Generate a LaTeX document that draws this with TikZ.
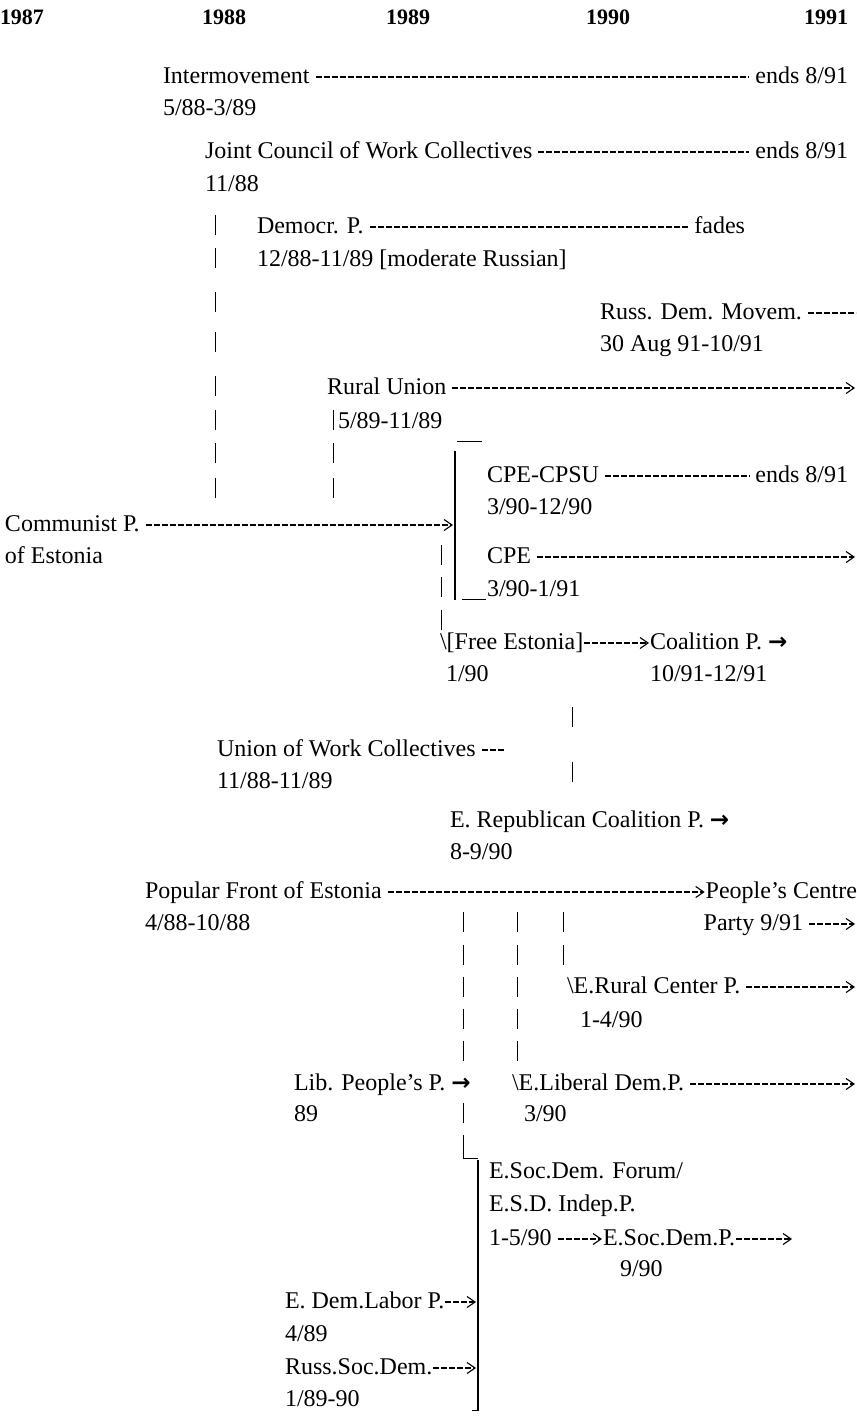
\documentclass[tikz,border=0pt]{standalone}
\usepackage{fontspec}
\setmainfont{Liberation Serif}
\newfontfamily\symf{DejaVu Sans}
\usetikzlibrary{arrows.meta}
\newcommand\vb[2]{\draw[barline] (#1,{#2-10}) -- (#1,{#2+10});}
\begin{document}
\begin{tikzpicture}[x=1pt,y=-1pt,
  every node/.style={inner sep=0pt,outer sep=0pt,font=\fontsize{24}{28}\selectfont},
  lbl/.style={anchor=base west},
  rlbl/.style={anchor=base east},
  yr/.style={anchor=base west,font=\fontsize{22}{26}\selectfont\bfseries},
  dsh/.style={line width=1.4pt,dash pattern=on 6pt off 2pt},
  dsharr/.style={dsh,-{Straight Barb[length=8pt,width=11pt,line width=1.1pt]}},
  barline/.style={line width=1pt},
  thick bar/.style={line width=2.6pt}]
\useasboundingbox (0,0) rectangle (857,1425);
\newcommand\ra{{\symf\bfseries\fontsize{23}{25}\selectfont →}}
% years
\node[yr] (y87) at (0,24) {1987};
\node[yr] (y88) at (202,24) {1988};
\node[yr] (y89) at (386,24) {1989};
\node[yr] (y90) at (586,24) {1990};
\node[yr] (y91) at (804,24) {1991};
% Intermovement
\node[lbl] (inter) at (163,83) {Intermovement};
\node[rlbl] (interE) at (848,83) {ends 8/91};
\draw[dsh] ([xshift=6pt,yshift=6pt]inter.base east) -- ([xshift=-6pt,yshift=6pt]interE.base west);
\node[lbl] (interD) at (163,115) {5/88-3/89};
% Joint Council
\node[lbl] (joint) at (205,158) {Joint Council of Work Collectives};
\node[rlbl] (jointE) at (848,158) {ends 8/91};
\draw[dsh] ([xshift=6pt,yshift=6pt]joint.base east) -- ([xshift=-6pt,yshift=6pt]jointE.base west);
\node[lbl] (jointD) at (205,191) {11/88};
% Democr
\node[lbl] (dem) at (257,233) {Democr. P.};
\node[rlbl] (demE) at (745,233) {fades};
\draw[dsh] ([xshift=6pt,yshift=6pt]dem.base east) -- ([xshift=-6pt,yshift=6pt]demE.base west);
\node[lbl] (demD) at (257,266) {12/88-11/89 [moderate Russian]};
% Russ Dem Movem
\node[lbl] (rdm) at (600,319) {Russ. Dem. Movem.};
\coordinate (rdmE) at (856,313);
\draw[dsh] ([xshift=6pt,yshift=6pt]rdm.base east) -- (rdmE);
\node[lbl] (rdmD) at (600,351) {30 Aug 91-10/91};
% Rural Union
\node[lbl] (ru) at (327,394) {Rural Union};
\coordinate (ruE) at (855,388);
\draw[dsharr] ([xshift=6pt,yshift=6pt]ru.base east) -- (ruE);
\node[lbl] (ruD) at (338,428) {5/89-11/89};
% left bar columns
\foreach \c in {225,258,302,342,386,420,453,488} {\vb{215}{\c}}
\foreach \c in {420,453,488} {\vb{333}{\c}}
% CPE bracket
\coordinate (brT) at (455,451);
\coordinate (brB) at (455,600);
\draw[thick bar] (brT) -- (brB);
\draw[barline] (457,441) -- (482,441);
\draw[barline] (462,599) -- (486,599);
\node[lbl] (cpsu) at (487,482) {CPE-CPSU};
\node[rlbl] (cpsuE) at (848,482) {ends 8/91};
\draw[dsh] ([xshift=6pt,yshift=6pt]cpsu.base east) -- ([xshift=-6pt,yshift=6pt]cpsuE.base west);
\node[lbl] (cpsuD) at (487,514) {3/90-12/90};
% Communist P.
\node[lbl] (cp) at (5,531) {Communist P.};
\coordinate (cpE) at (453,525);
\draw[dsharr] ([xshift=6pt,yshift=6pt]cp.base east) -- (cpE);
\node[lbl] (cpD) at (5,563) {of Estonia};
% CPE
\node[lbl] (cpe) at (487,563) {CPE};
\coordinate (cpeE) at (855,557);
\draw[dsharr] ([xshift=6pt,yshift=6pt]cpe.base east) -- (cpeE);
\node[lbl] (cpeD) at (487,596) {3/90-1/91};
\foreach \c in {555,587,620} {\vb{441}{\c}}
% Free Estonia
\node[lbl] (fe) at (440,649) {\textbackslash[Free Estonia]};
\node[lbl] (coal) at (650,649) {Coalition P. \ra};
\draw[dsharr] ([xshift=1pt,yshift=6pt]fe.base east) -- ([xshift=-1pt,yshift=6pt]coal.base west);
\node[lbl] (feD) at (446,681) {1/90};
\node[lbl] (coalD) at (650,681) {10/91-12/91};
\vb{572}{717}
\vb{572}{772}
% Union of Work Collectives
\node[lbl] (uwc) at (217,756) {Union of Work Collectives};
\coordinate (uwcE) at ([xshift=28pt,yshift=6pt]uwc.base east);
\draw[dsh] ([xshift=6pt,yshift=6pt]uwc.base east) -- (uwcE);
\node[lbl] (uwcD) at (217,788) {11/88-11/89};
% E. Republican Coalition
\node[lbl] (erc) at (450,827) {E. Republican Coalition P. \ra};
\node[lbl] (ercD) at (450,859) {8-9/90};
% Popular Front
\node[lbl] (pf) at (145,898) {Popular Front of Estonia};
\node[rlbl] (pcp) at (857,898) {People’s Centre};
\draw[dsharr] ([xshift=6pt,yshift=6pt]pf.base east) -- ([xshift=-1pt,yshift=6pt]pcp.base west);
\node[lbl] (pfD) at (145,930) {4/88-10/88};
\node[rlbl] (pcpD) at (803,930) {Party 9/91};
\coordinate (pcpE) at (855,924);
\draw[dsharr] ([xshift=6pt,yshift=6pt]pcpD.base east) -- (pcpE);
\foreach \c in {922,955,987,1019,1051,1113} {\vb{463}{\c}}
\foreach \c in {922,955,987,1019,1051} {\vb{517}{\c}}
\foreach \c in {922,955} {\vb{563}{\c}}
% E. Rural Center
\node[lbl] (erc2) at (567,993) {\textbackslash E.Rural Center P.};
\coordinate (erc2E) at (855,987);
\draw[dsharr] ([xshift=6pt,yshift=6pt]erc2.base east) -- (erc2E);
\node[lbl] (erc2D) at (580,1027) {1-4/90};
% Lib People's
\node[lbl] (lpp) at (294,1090) {Lib. People’s P. \ra};
\node[lbl] (eld) at (512,1090) {\textbackslash E.Liberal Dem.P.};
\coordinate (eldE) at (855,1084);
\draw[dsharr] ([xshift=6pt,yshift=6pt]eld.base east) -- (eldE);
\node[lbl] (lppD) at (294,1121) {89};
\node[lbl] (eldD) at (524,1121) {3/90};
% L corner
\draw[barline] (463,1135) -- (463,1158) -- (478,1158);
% Soc Dem bracket
\coordinate (sdT) at (478,1160);
\coordinate (sdB) at (478,1410);
\draw[thick bar] (sdT) -- (sdB);
\draw[barline] (472,1410) -- (479,1410);
\node[lbl] (esdf) at (489,1178) {E.Soc.Dem. Forum/};
\node[lbl] (esdi) at (489,1211) {E.S.D. Indep.P.};
\node[lbl] (esdd) at (489,1245) {1-5/90};
\node[lbl] (esdp) at (603,1245) {E.Soc.Dem.P.};
\draw[dsharr] ([xshift=6pt,yshift=6pt]esdd.base east) -- ([xshift=-1pt,yshift=6pt]esdp.base west);
\coordinate (esdpE) at (792,1239);
\draw[dsharr] ([xshift=1pt,yshift=6pt]esdp.base east) -- (esdpE);
\node[lbl] (esdpD) at (620,1276) {9/90};
% E. Dem Labor
\node[lbl] (edl) at (285,1308) {E. Dem.Labor P.};
\coordinate (edlE) at (476,1302);
\draw[dsharr] ([xshift=1pt,yshift=6pt]edl.base east) -- (edlE);
\node[lbl] (edlD) at (285,1341) {4/89};
% Russ Soc Dem
\node[lbl] (rsd) at (285,1374) {Russ.Soc.Dem.};
\coordinate (rsdE) at (476,1368);
\draw[dsharr] ([xshift=1pt,yshift=6pt]rsd.base east) -- (rsdE);
\node[lbl] (rsdD) at (285,1406) {1/89-90};
\end{tikzpicture}
\end{document}
